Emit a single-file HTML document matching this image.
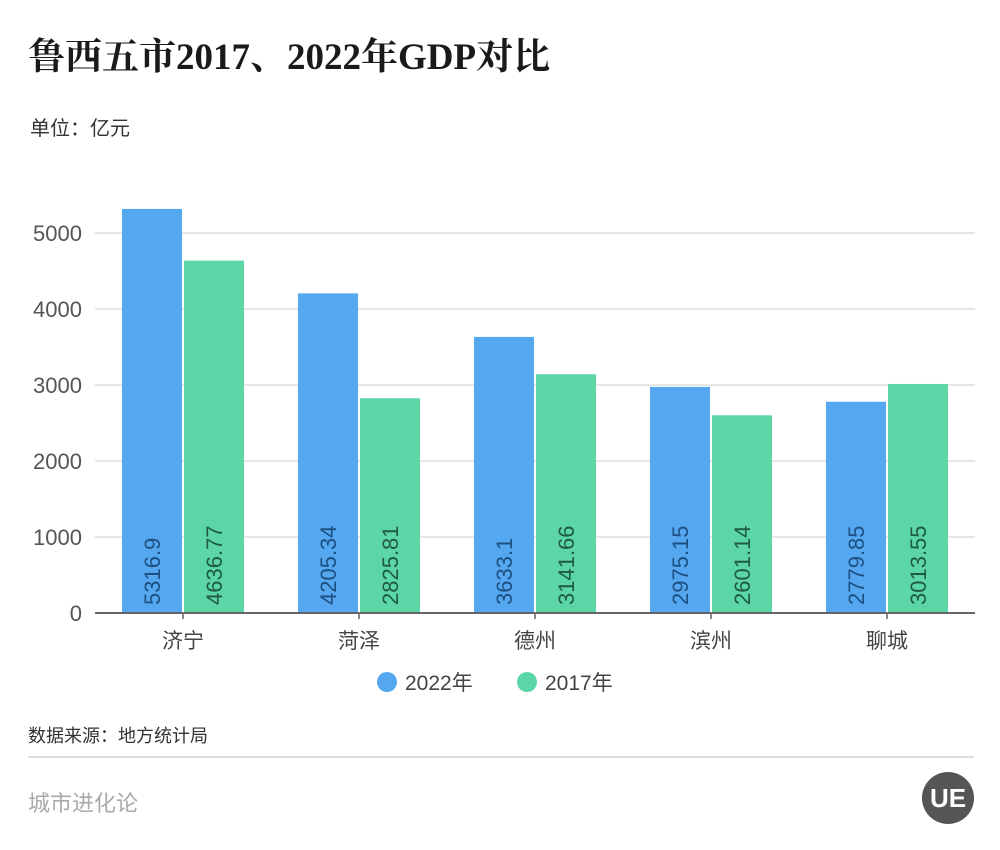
<!DOCTYPE html>
<html><head><meta charset="utf-8"><style>
html,body{margin:0;padding:0;background:#fff;}
body{width:1000px;height:850px;position:relative;overflow:hidden;font-family:"Liberation Sans","Noto Sans CJK SC",sans-serif;}
.t{position:absolute;}
</style></head><body>
<div class="t" style="left:28px;top:26px;font-size:37px;font-weight:bold;color:#1a1a1a;font-family:'Liberation Serif','Noto Serif CJK SC',serif;">鲁西五市2017、2022年GDP对比</div>
<div class="t" style="left:30px;top:112px;font-size:20px;color:#333;">单位：亿元</div>
<svg id="chart" width="1000" height="720" style="position:absolute;left:0;top:0;"></svg>
<div class="t" style="left:28px;top:722px;font-size:18px;color:#333;">数据来源：地方统计局</div>
<div class="t" style="left:28px;top:756px;width:946px;height:2px;background:#ddd;"></div>
<div class="t" style="left:28px;top:786px;font-size:22px;color:#aaa;">城市进化论</div>
<div class="t" style="left:922px;top:772px;width:52px;height:52px;border-radius:50%;background:#555;color:#fff;font-size:26px;font-weight:bold;text-align:center;line-height:52px;">UE</div>
<script>
const categories=["济宁","菏泽","德州","滨州","聊城"];
const values2022=[5316.9,4205.34,3633.1,2975.15,2779.85];
const values2017=[4636.77,2825.81,3141.66,2601.14,3013.55];
const ticks=[0,1000,2000,3000,4000,5000];
const ns="http://www.w3.org/2000/svg";
const svg=document.getElementById('chart');
const x0=95,band=176,y0=613,pxPer=0.076;
const y=v=>y0-v*pxPer;
function mk(tag,attrs){const e=document.createElementNS(ns,tag);for(const k in attrs)e.setAttribute(k,attrs[k]);svg.appendChild(e);return e;}
ticks.forEach(t=>{
  if(t>0){const g=mk('line',{x1:x0,x2:975,y1:y(t),y2:y(t),stroke:'#ddd','stroke-width':1.5});
  
  }
  const l=mk('text',{x:82,y:y(t)+8,'text-anchor':'end','font-size':22,fill:'#555','font-family':'Liberation Sans, sans-serif'});
  l.textContent=t;
  
  
});
categories.forEach((c,i)=>{
  const cx=x0+band*i+band/2;
  [[values2022[i],'#55a8f0',cx-61,'#1d4f80'],[values2017[i],'#5cd6a6',cx+1,'#1e5a45']].forEach(([v,col,bx,tc],j)=>{
    const r=mk('rect',{x:bx,y:y(v),width:60,height:y0-y(v),fill:col});
    
    
    const tx=bx+38,ty=y0-8;
    const t=mk('text',{x:tx,y:ty,transform:`rotate(-90 ${tx} ${ty})`,'font-size':22,fill:tc,'font-family':'Liberation Sans, sans-serif'});
    t.textContent=v;
    
    
  });
  const tk=mk('line',{x1:cx,x2:cx,y1:y0,y2:y0+6,stroke:'#666','stroke-width':1.5});
  
  
  const l=mk('text',{x:cx,y:648,'text-anchor':'middle','font-size':21,fill:'#444'});
  l.textContent=c;
  
  
});
const ax=mk('line',{x1:x0,x2:975,y1:y0,y2:y0,stroke:'#666','stroke-width':2});


[['2022年','#55a8f0',387],['2017年','#5cd6a6',527]].forEach(([n,c,lx])=>{
  const ci=mk('circle',{cx:lx,cy:682,r:10,fill:c});
  
  
  const t=mk('text',{x:lx+18,y:690,'font-size':21,fill:'#444'});
  t.textContent=n;
  
  
});
</script>
</body></html>
